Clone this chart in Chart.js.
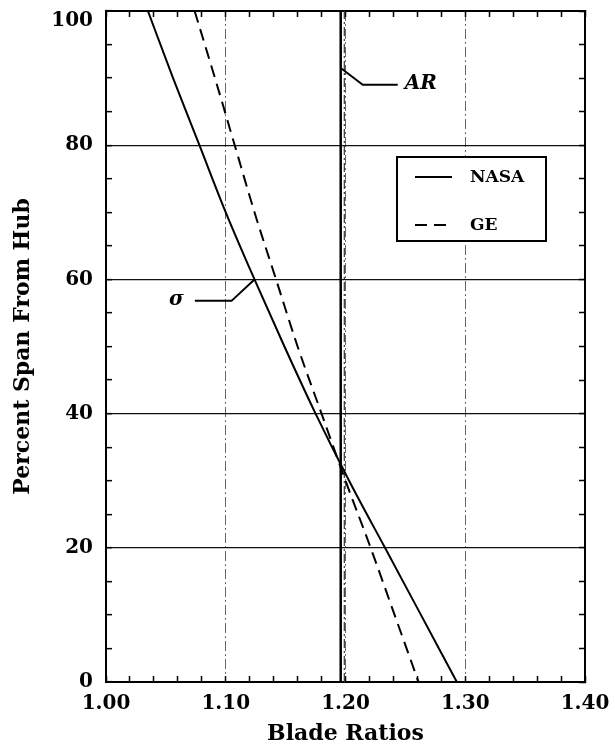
<!DOCTYPE html>
<html>
<head>
<meta charset="utf-8">
<title>Blade Ratios</title>
<script src="https://cdn.jsdelivr.net/npm/chart.js@4.4.1/dist/chart.umd.min.js"></script>
<style>
  html, body { margin: 0; padding: 0; background: #fff; }
  #wrap { width: 615px; height: 748px; }
</style>
</head>
<body>
<div id="wrap"><canvas id="bladeChart" width="615" height="748"></canvas></div>
<script>
// span stations, percent from hub
const spanPct = [100, 90, 80, 70, 60, 50, 40, 30, 20, 10, 0];
// solidity ratio at each station
const nasaRatio = [1.035, 1.056, 1.078, 1.100, 1.124, 1.149, 1.175, 1.203, 1.233, 1.263, 1.293];
const geRatio = [1.074, 1.091, 1.1075, 1.124, 1.142, 1.160, 1.180, 1.200, 1.221, 1.241, 1.261];
// aspect ratio, constant along the span
const nasaAR = 1.196;
const geAR = 1.199;

const xTicks = ['1.00', '1.10', '1.20', '1.30', '1.40'];
const yTicks = ['0', '20', '40', '60', '80', '100'];

// leader-line callouts (data coords): anchor, elbow, end
const callouts = [
  { text: 'σ', side: 'left', pts: [[1.124, 60], [1.1048, 56.8], [1.0742, 56.8]] },
  { text: 'AR', side: 'right', pts: [[nasaAR, 91.5], [1.2144, 89.0], [1.2436, 89.0]] }
];

const isMajorX = v => xTicks.includes(v.toFixed(2));
const isMajorY = v => yTicks.includes(String(Math.round(v)));
const inner = (v, lo, hi) => v > lo + 1e-6 && v < hi - 1e-6;

const toPts = xs => spanPct.map((y, i) => ({ x: xs[i], y: y }));

// fixed axis thickness, no extra room for overhanging labels
const fixSize = (prop, size) => s => {
  s[prop] = size;
  s.paddingLeft = s.paddingRight = s.paddingTop = s.paddingBottom = 0;
};

// push the top y label ("100") down so it sits inside the canvas
const topLabelNudge = {
  id: 'topLabelNudge',
  beforeDraw(chart) {
    const y = chart.scales.y;
    y.getLabelItems(chart.chartArea).forEach(item => {
      if (item.label === yTicks[yTicks.length - 1]) item.options.translation[1] += 10;
    });
  }
};

// callouts
const calloutPlugin = {
  id: 'callouts',
  afterDatasetsDraw(chart) {
    const { ctx, scales: { x, y } } = chart;
    ctx.save();
    ctx.strokeStyle = '#000';
    ctx.lineWidth = 2;
    ctx.fillStyle = '#000';
    ctx.font = 'italic bold 20px "DejaVu Serif"';
    ctx.textBaseline = 'middle';
    callouts.forEach(c => {
      const p = c.pts.map(q => [x.getPixelForValue(q[0]), y.getPixelForValue(q[1])]);
      ctx.beginPath();
      ctx.moveTo(p[0][0], p[0][1]);
      p.slice(1).forEach(q => ctx.lineTo(q[0], q[1]));
      ctx.stroke();
      const end = p[p.length - 1];
      if (c.side === 'left') {
        ctx.textAlign = 'right';
        ctx.fillText(c.text, end[0] - 11, end[1] - 1);
      } else {
        ctx.textAlign = 'left';
        ctx.fillText(c.text, end[0] + 7, end[1] - 1);
      }
    });
    ctx.restore();
  }
};

// boxed legend inside the plot
const legendBox = {
  id: 'legendBox',
  afterDatasetsDraw(chart) {
    const { ctx, chartArea: a } = chart;
    const bx = a.left + 291, by = a.top + 146, bw = 149, bh = 84;
    ctx.save();
    ctx.fillStyle = '#fff';
    ctx.fillRect(bx, by, bw, bh);
    ctx.lineWidth = 2;
    ctx.strokeStyle = '#000';
    ctx.strokeRect(bx, by, bw, bh);
    chart.data.datasets.filter(d => d.inLegend).forEach((d, i) => {
      const ly = by + 20 + i * 48;
      ctx.beginPath();
      ctx.setLineDash(d.borderDash || []);
      ctx.lineWidth = d.borderWidth;
      ctx.strokeStyle = d.borderColor;
      ctx.moveTo(bx + 18, ly);
      ctx.lineTo(bx + 55, ly);
      ctx.stroke();
      ctx.setLineDash([]);
      ctx.fillStyle = '#000';
      ctx.font = 'bold 17px "DejaVu Serif"';
      ctx.textAlign = 'left';
      ctx.textBaseline = 'middle';
      ctx.fillText(d.label, bx + 73, ly + 1);
    });
    ctx.restore();
  }
};

Chart.defaults.font.family = '"DejaVu Serif", serif';
Chart.defaults.color = '#000';

const frame = { display: true, color: '#000', width: 2 };

new Chart(document.getElementById('bladeChart'), {
  type: 'scatter',
  data: {
    datasets: [
      {
        label: 'NASA',
        inLegend: true,
        data: toPts(nasaRatio),
        showLine: true,
        borderColor: '#000',
        borderWidth: 2,
        pointRadius: 0,
        cubicInterpolationMode: 'monotone'
      },
      {
        label: 'GE',
        inLegend: true,
        data: toPts(geRatio),
        showLine: true,
        borderColor: '#000',
        borderWidth: 2,
        borderDash: [12, 7],
        pointRadius: 0,
        cubicInterpolationMode: 'monotone'
      },
      {
        label: 'NASA AR',
        data: [{ x: nasaAR, y: 0 }, { x: nasaAR, y: 100 }],
        showLine: true,
        borderColor: '#000',
        borderWidth: 2.5,
        pointRadius: 0
      },
      {
        label: 'GE AR',
        data: [{ x: geAR, y: 0 }, { x: geAR, y: 100 }],
        showLine: true,
        borderColor: '#333',
        borderWidth: 1.2,
        borderDash: [9, 3, 2, 3],
        pointRadius: 0
      }
    ]
  },
  options: {
    responsive: false,
    animation: false,
    layout: { padding: 0 },
    plugins: {
      legend: { display: false },
      tooltip: { enabled: false }
    },
    scales: {
      x: {
        type: 'linear',
        position: 'bottom',
        min: 1.0,
        max: 1.4,
        afterFit: fixSize('height', 66),
        border: { ...frame, dash: [10, 3, 2, 3] },
        grid: {
          color: c => (isMajorX(c.tick.value) && inner(c.tick.value, 1.0, 1.4)) ? '#666' : 'rgba(0,0,0,0)',
          lineWidth: 1,
          tickColor: '#000',
          tickLength: -6,
          tickWidth: 1.5
        },
        ticks: {
          stepSize: 0.02,
          autoSkip: false,
          maxRotation: 0,
          padding: 16,
          font: { size: 20, weight: 'bold' },
          callback: v => isMajorX(v) ? v.toFixed(2) : ''
        },
        title: {
          display: true,
          text: 'Blade Ratios',
          font: { size: 22, weight: 'bold' },
          padding: { top: 0, bottom: 1 }
        }
      },
      x2: {
        type: 'linear',
        position: 'top',
        min: 1.0,
        max: 1.4,
        afterFit: fixSize('height', 11),
        border: frame,
        grid: {
          drawOnChartArea: false,
          tickColor: '#000',
          tickLength: -6,
          tickWidth: 1.5
        },
        ticks: { stepSize: 0.02, autoSkip: false, display: false }
      },
      y: {
        type: 'linear',
        position: 'left',
        min: 0,
        max: 100,
        afterFit: fixSize('width', 106),
        border: frame,
        grid: {
          color: c => (isMajorY(c.tick.value) && inner(c.tick.value, 0, 100)) ? '#111' : 'rgba(0,0,0,0)',
          lineWidth: 1.3,
          tickColor: '#000',
          tickLength: -6,
          tickWidth: 1.5
        },
        ticks: {
          stepSize: 5,
          autoSkip: false,
          padding: 19,
          font: { size: 20, weight: 'bold' },
          callback: v => isMajorY(v) ? String(v) : ''
        },
        title: {
          display: true,
          text: 'Percent Span From Hub',
          font: { size: 22, weight: 'bold' },
          padding: { top: 10, bottom: 0 }
        }
      },
      y2: {
        type: 'linear',
        position: 'right',
        min: 0,
        max: 100,
        afterFit: fixSize('width', 30),
        border: frame,
        grid: {
          drawOnChartArea: false,
          tickColor: '#000',
          tickLength: -6,
          tickWidth: 1.5
        },
        ticks: { stepSize: 5, autoSkip: false, display: false }
      }
    }
  },
  plugins: [topLabelNudge, calloutPlugin, legendBox]
});
</script>
</body>
</html>
